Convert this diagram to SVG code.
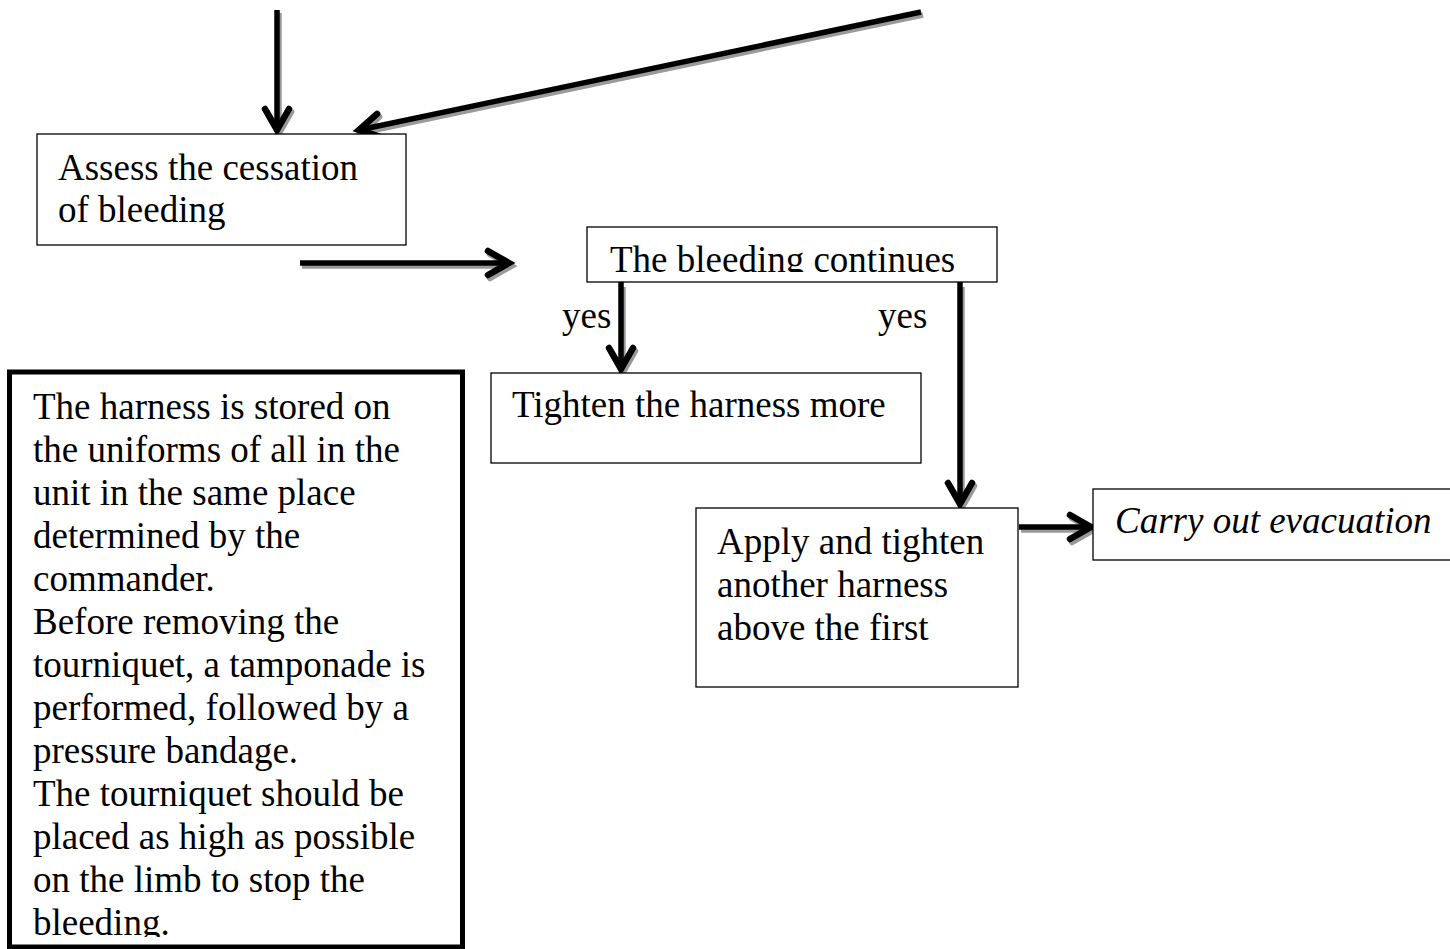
<svg xmlns="http://www.w3.org/2000/svg" width="1450" height="949" viewBox="0 0 1450 949">
<style>
.box{fill:#fff;stroke:#000;stroke-width:1.3}
.t{font-family:"Liberation Serif","Times New Roman",serif;font-size:37px;fill:#000}
.i{font-style:italic}
.ln{fill:none;stroke:#000;stroke-width:5.5}
.sh{fill:none;stroke:#9a9a9a;stroke-width:5.5}
</style>
<defs>
<marker id="ah" markerUnits="userSpaceOnUse" markerWidth="40" markerHeight="40" viewBox="-30 -20 40 40" refX="0" refY="0" orient="auto" overflow="visible">
<path d="M-21,-12 L0,0 L-21,12" fill="none" stroke="#000" stroke-width="6.5" stroke-linecap="round"/>
</marker>
<marker id="ahs" markerUnits="userSpaceOnUse" markerWidth="40" markerHeight="40" viewBox="-30 -20 40 40" refX="0" refY="0" orient="auto" overflow="visible">
<path d="M-21,-12 L0,0 L-21,12" fill="none" stroke="#9a9a9a" stroke-width="6.5" stroke-linecap="round"/>
</marker>
<clipPath id="c1"><rect x="587" y="227" width="411" height="45"/></clipPath>
<clipPath id="c2"><rect x="12" y="374" width="449" height="563"/></clipPath>
</defs>
<rect width="1450" height="949" fill="#fff"/>

<g id="connectors">
<g transform="translate(2,3)">
<line class="sh" x1="277" y1="10" x2="277" y2="130" marker-end="url(#ahs)"/>
<line class="sh" x1="921" y1="12" x2="359" y2="130" marker-end="url(#ahs)"/>
<line class="sh" x1="300" y1="263" x2="509" y2="263" marker-end="url(#ahs)"/>
<line class="sh" x1="621" y1="284" x2="621" y2="369" marker-end="url(#ahs)"/>
<line class="sh" x1="1019" y1="527" x2="1091" y2="527" marker-end="url(#ahs)"/>
<line class="sh" x1="960" y1="284" x2="960" y2="504" marker-end="url(#ahs)"/>
</g>
<line class="ln" x1="277" y1="10" x2="277" y2="130" marker-end="url(#ah)"/>
<line class="ln" x1="921" y1="12" x2="359" y2="130" marker-end="url(#ah)"/>
<line class="ln" x1="300" y1="263" x2="509" y2="263" marker-end="url(#ah)"/>
<line class="ln" x1="621" y1="282" x2="621" y2="369" marker-end="url(#ah)"/>
<line class="ln" x1="1019" y1="527" x2="1091" y2="527" marker-end="url(#ah)"/>
<line class="ln" x1="960" y1="282" x2="960" y2="504" marker-end="url(#ah)"/>
<text class="t" x="562" y="328">yes</text>
<text class="t" x="878" y="328">yes</text>
</g>

<g id="assess">
<rect class="box" x="37" y="134" width="369" height="111"/>
<text class="t" x="58" y="180">Assess the cessation</text>
<text class="t" x="58" y="222">of bleeding</text>
</g>

<g id="continues">
<rect class="box" x="587" y="227" width="410" height="55"/>
<text class="t" x="610" y="272" clip-path="url(#c1)">The bleeding continues</text>
</g>

<g id="tighten">
<rect class="box" x="491" y="373" width="430" height="90"/>
<text class="t" x="512" y="417">Tighten the harness more</text>
</g>

<g id="apply">
<rect class="box" x="696" y="508" width="322" height="179"/>
<text class="t" x="717" y="554">Apply and tighten</text>
<text class="t" x="717" y="597">another harness</text>
<text class="t" x="717" y="640">above the first</text>
</g>

<g id="evacuation">
<rect class="box" x="1093" y="489" width="370" height="71"/>
<text class="t i" x="1115" y="533">Carry out evacuation</text>
</g>

<g id="note">
<rect x="9.5" y="372" width="453" height="575" fill="#fff" stroke="#000" stroke-width="5"/>
<g clip-path="url(#c2)">
<text class="t" x="33" y="419">The harness is stored on</text>
<text class="t" x="33" y="462">the uniforms of all in the</text>
<text class="t" x="33" y="505">unit in the same place</text>
<text class="t" x="33" y="548">determined by the</text>
<text class="t" x="33" y="591">commander.</text>
<text class="t" x="33" y="634">Before removing the</text>
<text class="t" x="33" y="677">tourniquet, a tamponade is</text>
<text class="t" x="33" y="720">performed, followed by a</text>
<text class="t" x="33" y="763">pressure bandage.</text>
<text class="t" x="33" y="806">The tourniquet should be</text>
<text class="t" x="33" y="849">placed as high as possible</text>
<text class="t" x="33" y="892">on the limb to stop the</text>
<text class="t" x="33" y="935">bleeding.</text>
</g>
</g>
</svg>
